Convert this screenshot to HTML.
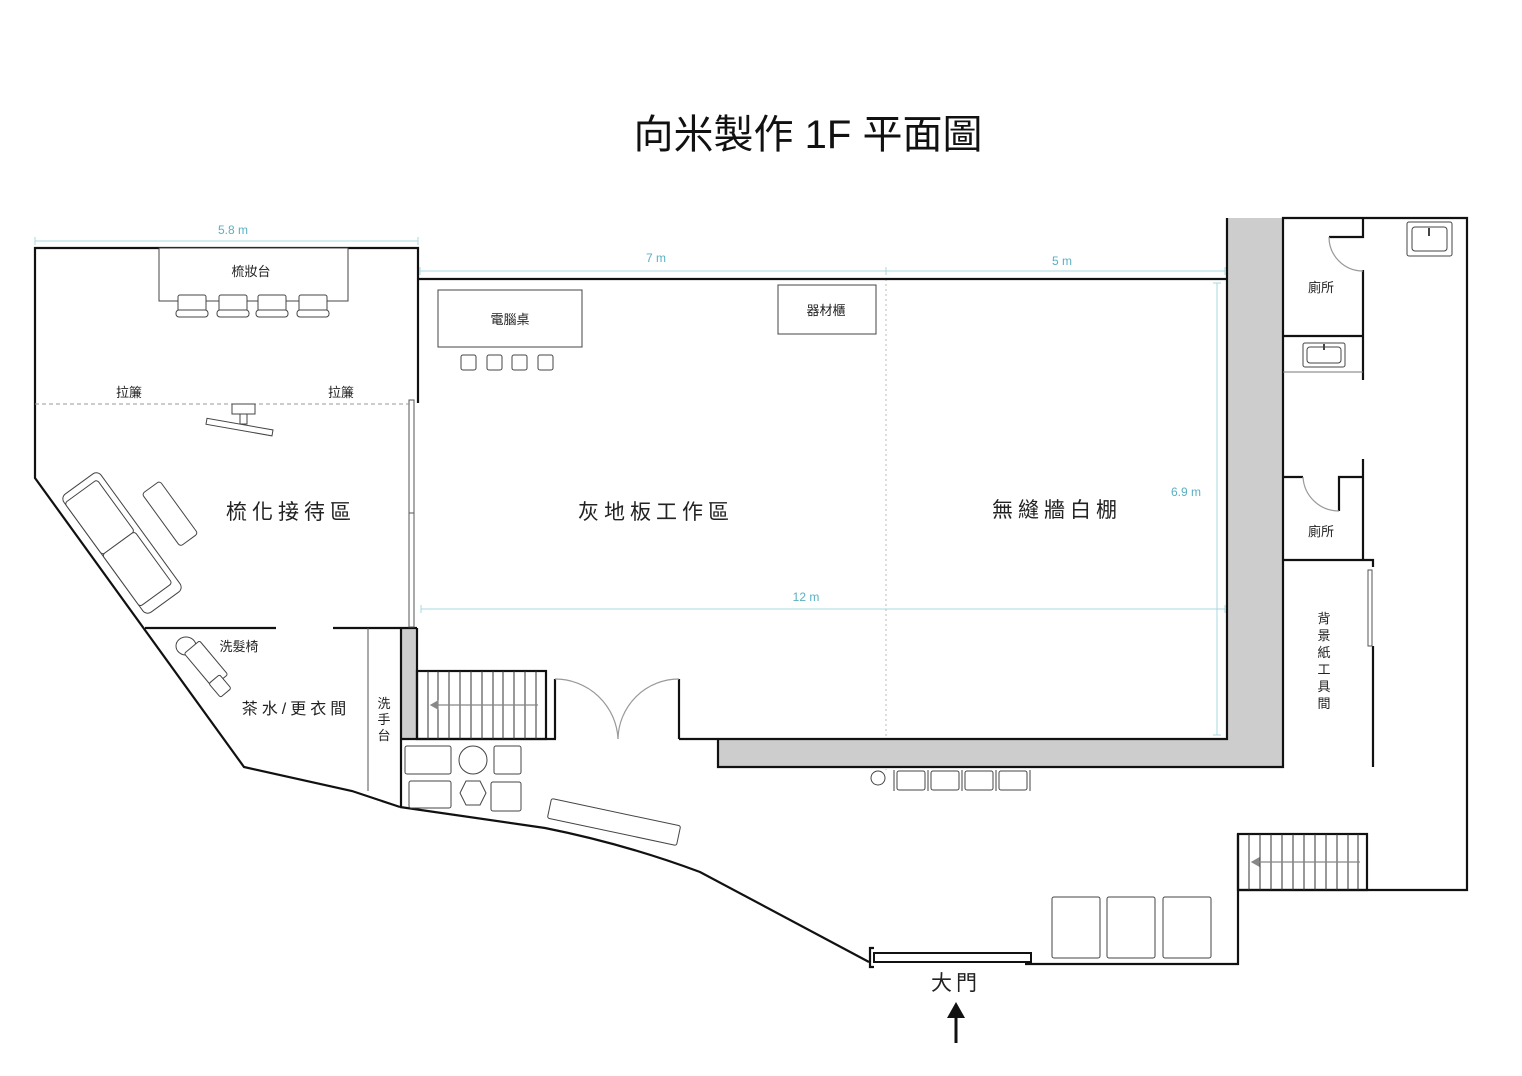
<!DOCTYPE html>
<html><head><meta charset="utf-8"><style>
html,body{margin:0;padding:0;background:#fff;}
svg{display:block;}
text{font-family:"Liberation Sans","Noto Sans CJK TC",sans-serif;}
</style></head><body>
<svg width="1522" height="1076" viewBox="0 0 1522 1076" xmlns="http://www.w3.org/2000/svg">
<rect width="1522" height="1076" fill="#fff"/>
<text x="808" y="148" font-size="40" text-anchor="middle" fill="#111" style="font-family:'Liberation Sans','Noto Sans CJK TC',sans-serif">向米製作 1F 平面圖</text>

<!-- dimension lines -->
<g stroke="#a8d8e0" stroke-width="1" fill="none">
<line x1="35" y1="241" x2="418" y2="241"/><line x1="35" y1="237" x2="35" y2="245"/><line x1="418" y1="237" x2="418" y2="245"/>
<line x1="420" y1="271" x2="1225" y2="271"/><line x1="420" y1="267" x2="420" y2="275"/><line x1="886" y1="267" x2="886" y2="275"/><line x1="1225" y1="267" x2="1225" y2="275"/>
<line x1="421" y1="609" x2="1225" y2="609"/><line x1="421" y1="605" x2="421" y2="613"/><line x1="1225" y1="605" x2="1225" y2="613"/>
<line x1="1217" y1="283" x2="1217" y2="735"/><line x1="1213" y1="283" x2="1221" y2="283"/><line x1="1213" y1="735" x2="1221" y2="735"/>
</g>
<g fill="#5ab0c4" font-size="12" text-anchor="middle">
<text x="233" y="234">5.8 m</text><text x="656" y="262">7 m</text><text x="1062" y="265">5 m</text><text x="806" y="601">12 m</text><text x="1186" y="496">6.9 m</text>
</g>
<line x1="886" y1="279" x2="886" y2="770" stroke="#bbb" stroke-width="1" stroke-dasharray="2,3"/>

<!-- gray walls -->
<rect x="1227" y="218" width="56" height="549" fill="#cdcdcd"/>
<rect x="718" y="739" width="565" height="28" fill="#cdcdcd"/>
<rect x="401" y="628" width="16" height="111" fill="#cdcdcd"/>

<g stroke="#111" stroke-width="2.2" fill="none" stroke-linejoin="miter">
<polyline points="418,403 418,248 35,248 35,478 244,767 352,791 400,807"/>
<line x1="418" y1="279" x2="1227" y2="279"/>
<line x1="145" y1="628" x2="276" y2="628"/>
<line x1="333" y1="628" x2="417" y2="628"/>
<polyline points="401,628 401,739 401,807"/>
<polyline points="417,628 417,739"/>
<rect x="417" y="671" width="129" height="68"/>
<line x1="401" y1="739" x2="556" y2="739"/>
<line x1="555" y1="679" x2="555" y2="739"/>
<line x1="679" y1="679" x2="679" y2="739"/>
<polyline points="679,739 1227,739 1227,218"/>
<polyline points="718,739 718,767 1283,767 1283,218 1467,218 1467,890 1238,890"/>
<rect x="1238" y="834" width="129" height="56"/>
<polyline points="1238,834 1238,964 1025,964"/>
<path d="M400 807 L545 828 Q625 844 700 872 L869 962"/>
<polyline points="874,948 870,948 870,967 874,967"/>
<polyline points="1363,218 1363,237 1329,237"/>
<line x1="1363" y1="270" x2="1363" y2="380"/>
<line x1="1283" y1="336" x2="1363" y2="336"/>
<line x1="1283" y1="477" x2="1303" y2="477"/>
<polyline points="1339,511 1339,477 1363,477"/>
<line x1="1363" y1="459" x2="1363" y2="560"/>
<polyline points="1283,560 1373,560 1373,567"/>
<line x1="1373" y1="646" x2="1373" y2="767"/>
</g>
<line x1="1283" y1="372" x2="1363" y2="372" stroke="#777" stroke-width="1"/>
<line x1="368" y1="628" x2="368" y2="791" stroke="#555" stroke-width="1"/>
<g stroke="#999" stroke-width="1.2" fill="none">
<path d="M1329 237 A34 34 0 0 0 1363 271"/>
<path d="M1303 477 A36 36 0 0 0 1339 511"/>
<path d="M555 679 A63 63 0 0 1 618 739"/>
<path d="M679 679 A61 61 0 0 0 618 739"/>
</g>
<g stroke="#333" stroke-width="1">
<line x1="428" y1="671" x2="428" y2="739"/><line x1="438" y1="671" x2="438" y2="739"/><line x1="449" y1="671" x2="449" y2="739"/><line x1="460" y1="671" x2="460" y2="739"/><line x1="471" y1="671" x2="471" y2="739"/><line x1="482" y1="671" x2="482" y2="739"/><line x1="493" y1="671" x2="493" y2="739"/><line x1="503" y1="671" x2="503" y2="739"/><line x1="514" y1="671" x2="514" y2="739"/><line x1="525" y1="671" x2="525" y2="739"/><line x1="536" y1="671" x2="536" y2="739"/>
<line x1="1249" y1="834" x2="1249" y2="890"/><line x1="1260" y1="834" x2="1260" y2="890"/><line x1="1271" y1="834" x2="1271" y2="890"/><line x1="1282" y1="834" x2="1282" y2="890"/><line x1="1293" y1="834" x2="1293" y2="890"/><line x1="1304" y1="834" x2="1304" y2="890"/><line x1="1315" y1="834" x2="1315" y2="890"/><line x1="1326" y1="834" x2="1326" y2="890"/><line x1="1337" y1="834" x2="1337" y2="890"/><line x1="1348" y1="834" x2="1348" y2="890"/><line x1="1358" y1="834" x2="1358" y2="890"/>
</g>
<g stroke="#888" stroke-width="1.2" fill="#888">
<line x1="538" y1="705" x2="434" y2="705"/><polygon points="431,705 438,701 438,709"/>
<line x1="1360" y1="862" x2="1255" y2="862"/><polygon points="1252,862 1259,858 1259,866"/>
</g>
<rect x="409" y="400" width="5" height="227" fill="#fff" stroke="#555" stroke-width="1"/>
<line x1="409" y1="513" x2="414" y2="513" stroke="#555"/>
<rect x="1368" y="570" width="4" height="76" fill="#fff" stroke="#555" stroke-width="1"/>
<rect x="874" y="953" width="157" height="9" fill="#fff" stroke="#111" stroke-width="2"/>
<line x1="35" y1="404" x2="410" y2="404" stroke="#999" stroke-width="1" stroke-dasharray="4,3"/>

<g stroke="#444" stroke-width="1" fill="#fff">
<rect x="159" y="248" width="189" height="53"/>
<rect x="178" y="295" width="28" height="20" rx="2"/><rect x="176" y="310" width="32" height="7" rx="3"/>
<rect x="219" y="295" width="28" height="20" rx="2"/><rect x="217" y="310" width="32" height="7" rx="3"/>
<rect x="258" y="295" width="28" height="20" rx="2"/><rect x="256" y="310" width="32" height="7" rx="3"/>
<rect x="299" y="295" width="28" height="20" rx="2"/><rect x="297" y="310" width="32" height="7" rx="3"/>
<rect x="232" y="404" width="23" height="10"/><rect x="240" y="414" width="7" height="10"/>
<rect x="206" y="424" width="67" height="6" transform="rotate(10 239 427)"/>
<g transform="translate(122,543) rotate(54)">
<rect x="-73" y="-23" width="146" height="46" rx="6"/>
<rect x="-66" y="-17" width="64" height="40" rx="3"/><rect x="-2" y="-17" width="64" height="40" rx="3"/>
<rect x="-28" y="-67" width="65" height="22" rx="3"/>
</g>
<rect x="438" y="290" width="144" height="57"/>
<rect x="461" y="355" width="15" height="15" rx="2"/><rect x="487" y="355" width="15" height="15" rx="2"/><rect x="512" y="355" width="15" height="15" rx="2"/><rect x="538" y="355" width="15" height="15" rx="2"/>
<rect x="778" y="285" width="98" height="49"/>
<rect x="405" y="746" width="46" height="28" rx="2"/><circle cx="473" cy="760" r="14"/><rect x="494" y="746" width="27" height="28" rx="2"/>
<rect x="409" y="781" width="42" height="27" rx="2"/><polygon points="466,781 480,781 486,793 480,805 466,805 460,793"/><rect x="491" y="782" width="30" height="29" rx="2"/>
<rect x="548" y="812" width="132" height="20" rx="2" transform="rotate(12 614 822)"/>
<ellipse cx="186" cy="646" rx="10" ry="9"/>
<rect x="184" y="654" width="44" height="20" rx="2" transform="rotate(50 206 664)"/>
<rect x="211" y="679" width="18" height="14" rx="2" transform="rotate(50 220 686)"/>
<circle cx="878" cy="778" r="7"/>
<rect x="897" y="771" width="28" height="19" rx="2"/><rect x="931" y="771" width="28" height="19" rx="2"/><rect x="965" y="771" width="28" height="19" rx="2"/><rect x="999" y="771" width="28" height="19" rx="2"/>
<line x1="894" y1="770" x2="894" y2="791"/><line x1="928" y1="770" x2="928" y2="791"/><line x1="962" y1="770" x2="962" y2="791"/><line x1="996" y1="770" x2="996" y2="791"/><line x1="1030" y1="770" x2="1030" y2="791"/>
<rect x="1052" y="897" width="48" height="61" rx="2"/><rect x="1107" y="897" width="48" height="61" rx="2"/><rect x="1163" y="897" width="48" height="61" rx="2"/>
<rect x="1407" y="222" width="45" height="34" rx="2"/><rect x="1412" y="227" width="35" height="24" rx="3"/>
<rect x="1303" y="343" width="42" height="24" rx="2"/><rect x="1307" y="347" width="34" height="16" rx="3"/>
</g>
<line x1="1429" y1="228" x2="1429" y2="236" stroke="#444" stroke-width="2"/>
<line x1="1324" y1="344" x2="1324" y2="350" stroke="#444" stroke-width="2"/>

<g fill="#222" font-size="13" text-anchor="middle">
<text x="251" y="276">梳妝台</text>
<text x="129" y="397">拉簾</text><text x="341" y="397">拉簾</text>
<text x="510" y="324">電腦桌</text><text x="826" y="315">器材櫃</text>
<text x="239" y="651">洗髮椅</text>
<text x="1321" y="292">廁所</text><text x="1321" y="536">廁所</text>
<text x="384" y="708">洗</text><text x="384" y="724">手</text><text x="384" y="740">台</text>
<text x="1324" y="623">背</text><text x="1324" y="640">景</text><text x="1324" y="657">紙</text><text x="1324" y="674">工</text><text x="1324" y="691">具</text><text x="1324" y="708">間</text>
</g>
<g fill="#222" font-size="21" text-anchor="middle" letter-spacing="5">
<text x="291" y="519">梳化接待區</text>
<text x="656" y="519">灰地板工作區</text>
<text x="1057" y="517">無縫牆白棚</text>
</g>
<text x="296" y="714" font-size="16" fill="#222" text-anchor="middle" letter-spacing="4">茶水/更衣間</text>
<text x="956" y="990" font-size="21" fill="#222" text-anchor="middle" letter-spacing="4">大門</text>
<line x1="956" y1="1043" x2="956" y2="1015" stroke="#111" stroke-width="3"/>
<polygon points="956,1002 947,1018 965,1018" fill="#111"/>
</svg>
</body></html>
